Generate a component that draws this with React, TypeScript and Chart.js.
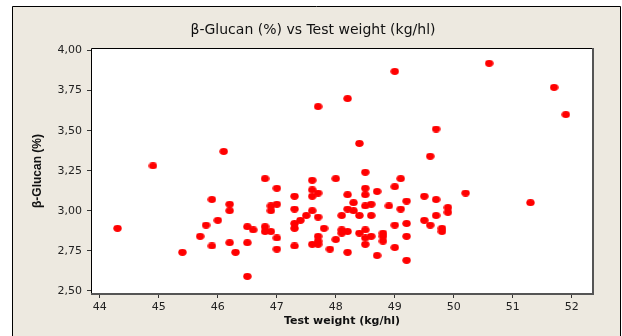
import React, { useEffect, useRef } from "react";
import { Chart, registerables } from "chart.js";

Chart.register(...registerables);

const testWeight: number[] = [
  44.3, 44.9, 45.4, 45.7, 45.8, 45.9, 45.9, 46.0, 46.1, 46.2, 46.2, 46.2, 46.3, 46.5, 46.6, 46.5, 46.5,
  46.8, 46.8, 46.8, 46.9, 46.9, 46.9, 47.0, 47.0, 47.0, 47.0, 47.3, 47.3, 47.3, 47.3, 47.3, 47.4, 47.5,
  47.6, 47.6, 47.6, 47.7, 47.6, 47.7, 47.7, 47.6, 47.7, 47.7, 47.7, 47.8, 47.9, 48.0, 48.0, 48.1, 48.1,
  48.1, 48.2, 48.2, 48.2, 48.2, 48.2, 48.3, 48.3, 48.4, 48.4, 48.4, 48.5, 48.5, 48.5, 48.5, 48.6, 48.5,
  48.5, 48.6, 48.5, 48.6, 48.7, 48.7, 48.8, 48.8, 48.8, 48.9, 49.0, 49.0, 49.1, 49.0, 49.0, 49.1, 49.2,
  49.2, 49.2, 49.2, 49.5, 49.5, 49.6, 49.6, 49.7, 49.7, 49.7, 49.8, 49.8, 49.9, 49.9, 50.2, 50.6, 51.3,
  51.7, 51.9,
];

const betaGlucan: number[] = [
  2.89, 3.28, 2.74, 2.84, 2.91, 3.07, 2.78, 2.94, 3.37, 3.04, 3.0, 2.8, 2.74, 2.9, 2.88, 2.8, 2.59,
  3.2, 2.9, 2.87, 2.87, 3.03, 3.0, 3.04, 3.14, 2.83, 2.76, 3.09, 3.01, 2.92, 2.89, 2.78, 2.94, 2.97,
  3.19, 3.13, 3.09, 3.11, 3.0, 2.96, 2.84, 2.79, 2.81, 2.79, 3.65, 2.89, 2.76, 3.2, 2.82, 2.97, 2.88,
  2.86, 2.87, 3.7, 3.1, 3.01, 2.74, 3.05, 3.0, 2.97, 2.86, 3.42, 3.24, 3.14, 3.1, 3.03, 3.04, 2.88,
  2.83, 2.84, 2.79, 2.97, 3.12, 2.72, 2.86, 2.84, 2.81, 3.03, 3.87, 3.15, 3.2, 2.91, 2.77, 3.01, 3.06,
  2.92, 2.84, 2.69, 3.09, 2.94, 3.34, 2.91, 3.51, 3.07, 2.97, 2.89, 2.87, 3.02, 2.99, 3.11, 3.92, 3.05,
  3.77, 3.6,
];

const xTicks: number[] = [44, 45, 46, 47, 48, 49, 50, 51, 52];
const yTicks: number[] = [2.5, 2.75, 3.0, 3.25, 3.5, 3.75, 4.0];

const chartTitle = "β-Glucan (%) vs Test weight (kg/hl)";
const xTitle = "Test weight (kg/hl)";
const yTitle = "β-Glucan (%)";

const BG = "#EDE9E0";

function makeDot(): HTMLCanvasElement {
  const c = document.createElement("canvas");
  c.width = 9;
  c.height = 7;
  const g = c.getContext("2d")!;
  g.fillStyle = "#FF0000";
  g.beginPath();
  g.ellipse(4.5, 3.5, 4.2, 3.4, 0, 0, Math.PI * 2);
  g.fill();
  return c;
}

const decorPlugin = {
  id: "decor",
  beforeDraw(chart: any) {
    const { ctx, width, height, chartArea } = chart;
    ctx.save();
    ctx.fillStyle = "#ffffff";
    ctx.fillRect(0, 0, width, height);
    ctx.fillStyle = BG;
    ctx.fillRect(12, 6, 609, height);
    ctx.strokeStyle = "#000";
    ctx.lineWidth = 1;
    ctx.beginPath();
    ctx.moveTo(12.5, height + 2);
    ctx.lineTo(12.5, 6.5);
    ctx.lineTo(620.5, 6.5);
    ctx.lineTo(620.5, height + 2);
    ctx.stroke();
    ctx.fillStyle = "#ffffff";
    ctx.fillRect(chartArea.left, chartArea.top, chartArea.right - chartArea.left, chartArea.bottom - chartArea.top);
    ctx.restore();
  },
  afterDraw(chart: any) {
    const { ctx, chartArea } = chart;
    const { left, right, top, bottom } = chartArea;
    ctx.save();
    ctx.strokeStyle = "#000";
    ctx.lineWidth = 1;
    ctx.beginPath();
    ctx.moveTo(left + 0.5, bottom);
    ctx.lineTo(left + 0.5, top + 0.5);
    ctx.lineTo(right, top + 0.5);
    ctx.stroke();
    ctx.strokeStyle = "#555";
    ctx.lineWidth = 2;
    ctx.beginPath();
    ctx.moveTo(right, top);
    ctx.lineTo(right, bottom);
    ctx.lineTo(left, bottom);
    ctx.stroke();

    ctx.fillStyle = "#111";
    ctx.textAlign = "center";
    ctx.textBaseline = "middle";
    ctx.font = "14px 'DejaVu Sans'";
    ctx.fillText(chartTitle, 313, 30);

    ctx.font = "bold 11px 'DejaVu Sans'";
    ctx.fillText(xTitle, (left + right) / 2, 321);

    ctx.translate(38, (top + bottom) / 2);
    ctx.rotate(-Math.PI / 2);
    ctx.font = "bold 12px 'Liberation Sans Narrow', 'Liberation Sans'";
    ctx.fillText(yTitle, 0, 0);
    ctx.restore();
  },
};

export default function App() {
  const canvasRef = useRef<HTMLCanvasElement | null>(null);

  useEffect(() => {
    document.body.style.margin = "0";
    const canvas = canvasRef.current;
    if (!canvas) return;
    const points = testWeight.map((x, i) => ({ x, y: betaGlucan[i] }));
    const tickFont = { family: "'DejaVu Sans'", size: 11 };
    const dot = makeDot();
    const chart = new Chart(canvas, {
      type: "scatter",
      data: {
        datasets: [
          {
            data: points,
            backgroundColor: "#FF0000",
            borderWidth: 0,
            pointStyle: dot as any,
            pointRadius: 4,
            pointHoverRadius: 4,
          },
        ],
      },
      options: {
        animation: false,
        responsive: false,
        maintainAspectRatio: false,
        events: [],
        layout: { padding: { left: 0, right: 29, top: 48, bottom: 0 } },
        plugins: {
          legend: { display: false },
          title: { display: false },
          tooltip: { enabled: false },
        },
        scales: {
          x: {
            type: "linear",
            position: "bottom",
            min: 43.85,
            max: 52.36,
            afterBuildTicks: (scale: any) => {
              scale.ticks = xTicks.map((v) => ({ value: v }));
            },
            afterFit: (scale: any) => {
              scale.height = 42;
            },
            grid: {
              drawOnChartArea: false,
              drawTicks: true,
              tickLength: 4,
              tickColor: "#333",
            },
            border: { display: false },
            ticks: {
              autoSkip: false,
              maxRotation: 0,
              padding: 3,
              color: "#222",
              font: tickFont,
              callback: (v: any) => String(v),
            },
          },
          y: {
            type: "linear",
            min: 2.48,
            max: 4.016,
            afterBuildTicks: (scale: any) => {
              scale.ticks = yTicks.map((v) => ({ value: v }));
            },
            afterFit: (scale: any) => {
              scale.width = 91;
            },
            grid: {
              drawOnChartArea: false,
              drawTicks: true,
              tickLength: 4,
              tickColor: "#333",
            },
            border: { display: false },
            ticks: {
              autoSkip: false,
              padding: 5,
              color: "#222",
              font: tickFont,
              callback: (v: any) => Number(v).toFixed(2).replace(".", ","),
            },
          },
        },
      },
      plugins: [decorPlugin],
    });
    return () => chart.destroy();
  }, []);

  return (
    <div style={{ width: 622, height: 336, position: "relative" }}>
      <canvas ref={canvasRef} width={622} height={336} style={{ width: 622, height: 336, display: "block" }} />
    </div>
  );
}
